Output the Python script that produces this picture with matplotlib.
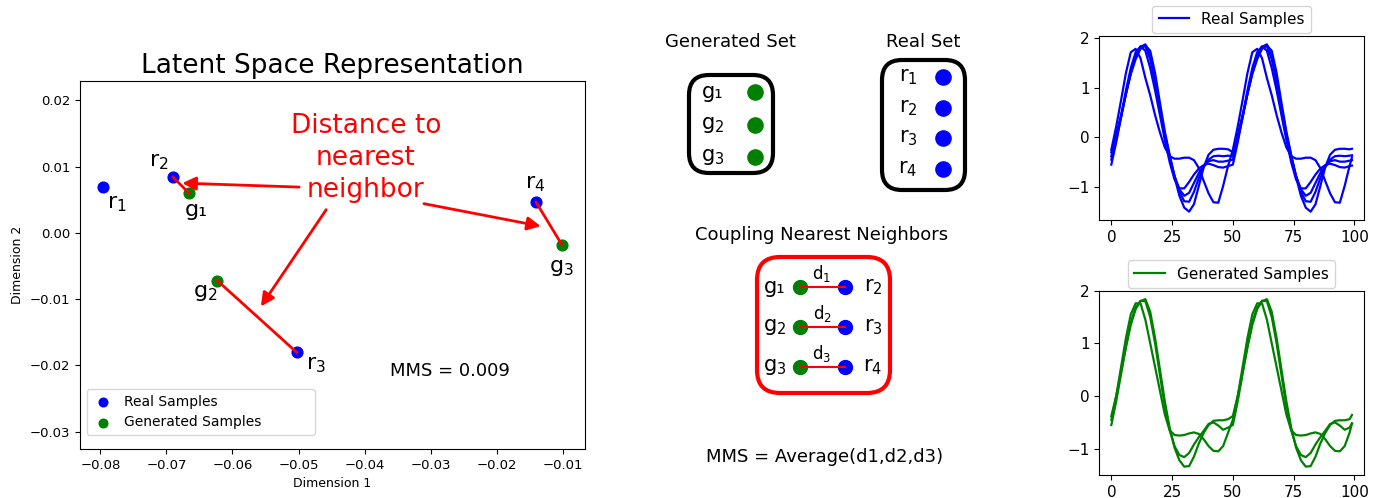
import matplotlib
matplotlib.use("Agg")
import matplotlib.pyplot as plt
from matplotlib.patches import FancyBboxPatch
import numpy as np

W, H = 1383, 498

# ---- latent space points ----
real_names = ["r$_1$", "r$_2$", "r$_3$", "r$_4$"]
real_x = [-0.0796, -0.0690, -0.0503, -0.0140]
real_y = [0.0069, 0.0084, -0.0180, 0.0046]
gen_names = ["g₁", "g$_2$", "g$_3$"]
gen_x = [-0.0666, -0.0623, -0.0101]
gen_y = [0.0060, -0.0072, -0.0018]
nearest = [1, 2, 3]  # index of the nearest real point for each generated point

# ---- time series, one period sampled every 2 steps (x = 0, 2, ..., 48) ----
step_x = list(range(0, 100, 2)) + [99]
real_period = [
    [-0.25, 0.22, 0.75, 1.30, 1.72, 1.79, 1.60, 1.20, 0.85, 0.45, 0.10, -0.20, -0.38,
     -0.43, -0.43, -0.41, -0.41, -0.46, -0.62, -0.88, -1.13, -1.31, -1.32, -0.98, -0.58],
    [-0.55, -0.10, 0.42, 0.95, 1.40, 1.72, 1.84, 1.75, 1.40, 0.95, 0.45, -0.05, -0.50,
     -0.85, -1.03, -1.03, -0.90, -0.75, -0.63, -0.56, -0.53, -0.56, -0.60, -0.61, -0.58],
    [-0.45, -0.05, 0.40, 0.88, 1.32, 1.65, 1.83, 1.84, 1.58, 1.10, 0.55, 0.02, -0.42,
     -0.78, -1.05, -1.18, -1.12, -0.92, -0.72, -0.58, -0.48, -0.46, -0.49, -0.49, -0.47],
    [-0.38, 0.00, 0.42, 0.88, 1.30, 1.62, 1.83, 1.88, 1.68, 1.20, 0.62, 0.07, -0.38,
     -0.78, -1.10, -1.29, -1.30, -1.10, -0.82, -0.60, -0.45, -0.38, -0.37, -0.38, -0.37],
    [-0.30, 0.05, 0.45, 0.88, 1.28, 1.58, 1.79, 1.86, 1.75, 1.30, 0.70, 0.12, -0.35,
     -0.80, -1.18, -1.42, -1.50, -1.35, -0.98, -0.60, -0.35, -0.25, -0.23, -0.23, -0.24],
]
real_end = [-0.40, -0.57, -0.46, -0.36, -0.23]

gen_period = [
    [-0.45, 0.00, 0.55, 1.10, 1.55, 1.76, 1.76, 1.45, 1.00, 0.55, 0.10, -0.35, -0.65,
     -0.74, -0.75, -0.74, -0.71, -0.69, -0.72, -0.82, -0.95, -1.04, -1.05, -0.95, -0.70],
    [-0.55, -0.10, 0.42, 0.95, 1.40, 1.68, 1.81, 1.80, 1.50, 1.00, 0.40, -0.20, -0.65,
     -0.95, -1.12, -1.16, -1.08, -0.92, -0.78, -0.66, -0.53, -0.50, -0.56, -0.64, -0.60],
    [-0.38, 0.00, 0.45, 0.92, 1.35, 1.65, 1.80, 1.84, 1.60, 1.10, 0.50, -0.10, -0.60,
     -0.98, -1.22, -1.34, -1.33, -1.15, -0.90, -0.70, -0.55, -0.47, -0.46, -0.46, -0.44],
]
gen_end = [-0.52, -0.52, -0.36]

fig = plt.figure(figsize=(W / 100, H / 100), dpi=100)

# ---------------- latent space scatter ----------------
ax = fig.add_axes([80 / W, 1 - 449 / H, 505 / W, 368 / H])
ax.scatter(real_x, real_y, s=60, color="blue", label="Real Samples", zorder=3)
ax.scatter(gen_x, gen_y, s=60, color="green", label="Generated Samples", zorder=3)

dists = []
for gi, ri in enumerate(nearest):
    ax.plot([gen_x[gi], real_x[ri]], [gen_y[gi], real_y[ri]], color="red", lw=2, zorder=4)
    dists.append(np.hypot(gen_x[gi] - real_x[ri], gen_y[gi] - real_y[ri]))

real_off = [(10, -12), (-10, 11), (14, -9), (-1, 13)]
gen_off = [(5, -12), (-9, -9), (0, -17)]
for name, x, y, off in zip(real_names, real_x, real_y, real_off):
    ax.annotate(name, (x, y), xytext=off, textcoords="offset points",
                ha="center", va="center", fontsize=16)
for name, x, y, off in zip(gen_names, gen_x, gen_y, gen_off):
    ax.annotate(name, (x, y), xytext=off, textcoords="offset points",
                ha="center", va="center", fontsize=16)

ax.text(-0.0398, 0.0113, "Distance to\nnearest\nneighbor", color="red", fontsize=19,
        ha="center", va="center", linespacing=1.32)
arrows = [((-0.0499, 0.0069), (-0.0676, 0.0075)),
          ((-0.0458, 0.0035), (-0.0557, -0.0111)),
          ((-0.0310, 0.0044), (-0.0133, 0.0010))]
for tail, head in arrows:
    ax.annotate("", xy=head, xytext=tail,
                arrowprops=dict(arrowstyle="-|>", color="red", lw=2, mutation_scale=20,
                                shrinkA=0, shrinkB=0))

ax.text(-0.0270, -0.0208, f"MMS = {np.mean(dists):.3f}", fontsize=13,
        ha="center", va="center")

ax.set_xlim(-0.0831, -0.0066)
ax.set_ylim(-0.0326, 0.0229)
ax.set_xticks([-0.08, -0.07, -0.06, -0.05, -0.04, -0.03, -0.02, -0.01])
ax.set_yticks([-0.03, -0.02, -0.01, 0.0, 0.01, 0.02])
ax.tick_params(labelsize=9.5)
ax.set_xlabel("Dimension 1", fontsize=9)
ax.set_ylabel("Dimension 2", fontsize=9)
ax.set_title("Latent Space Representation", fontsize=19)
ax.legend(loc="lower left", bbox_to_anchor=(0.013, 0.038, 0.4525, 0.13), mode="expand",
          borderaxespad=0, fontsize=10, handlelength=1.5, markerscale=0.8)

# ---------------- set diagram (pixel coordinates) ----------------
axd = fig.add_axes([0, 0, 1, 1], zorder=-1)
axd.set_xlim(0, W)
axd.set_ylim(H, 0)
axd.set_axis_off()

def box(x0, y0, x1, y1, color, r):
    axd.add_patch(FancyBboxPatch((x0, y0), x1 - x0, y1 - y0,
                                 boxstyle=f"round,pad=0,rounding_size={r}",
                                 fc="none", ec=color, lw=3))

axd.text(730, 42, "Generated Set", fontsize=13, ha="center", va="center")
axd.text(923, 42, "Real Set", fontsize=13, ha="center", va="center")
box(689, 75, 773, 173, "black", 20)
box(882, 60, 965, 190, "black", 20)
for i, name in enumerate(gen_names):
    y = 92 + i * 32.5
    axd.text(713, y, name, fontsize=15, ha="center", va="center")
    axd.scatter([755], [y], s=120, color="green")
for i, name in enumerate(real_names):
    y = 77 + i * 30.5
    axd.text(908, y, name, fontsize=15, ha="center", va="center")
    axd.scatter([943], [y], s=120, color="blue")

axd.text(822, 235, "Coupling Nearest Neighbors", fontsize=13, ha="center", va="center")
box(757, 257, 890, 393, "red", 23)
for i, ri in enumerate(nearest):
    y = 287 + i * 40
    axd.plot([800, 845], [y, y], color="red", lw=1.5, zorder=3)
    axd.scatter([800], [y], s=100, color="green", zorder=2)
    axd.scatter([845], [y], s=100, color="blue", zorder=2)
    axd.text(775, y, gen_names[i], fontsize=15, ha="center", va="center")
    axd.text(873, y, real_names[ri], fontsize=15, ha="center", va="center")
    axd.text(822, y - 14, f"d$_{i + 1}$", fontsize=12, ha="center", va="center")
axd.text(825, 457, "MMS = Average(d1,d2,d3)", fontsize=13, ha="center", va="center")

# ---------------- sample curves ----------------
ax_r = fig.add_axes([1099.3 / W, 1 - 220 / H, 264.7 / W, 184 / H])
for k, (p, e) in enumerate(zip(real_period, real_end)):
    ax_r.plot(step_x, p + p + [e], color="blue", lw=1.6,
              label="Real Samples" if k == 0 else None)
ax_r.legend(loc="lower center", bbox_to_anchor=(0.5, 1.0), borderaxespad=0.2, fontsize=11)

ax_g = fig.add_axes([1099.3 / W, 1 - 475 / H, 264.7 / W, 184.3 / H])
for k, (p, e) in enumerate(zip(gen_period, gen_end)):
    ax_g.plot(step_x, p + p + [e], color="green", lw=1.6,
              label="Generated Samples" if k == 0 else None)
ax_g.legend(loc="lower center", bbox_to_anchor=(0.5, 1.0), borderaxespad=0.2, fontsize=11)

for a in (ax_r, ax_g):
    a.set_xticks([0, 25, 50, 75, 100])
    a.set_yticks([-1, 0, 1, 2])
    a.tick_params(labelsize=11)

fig.savefig("out.png", dpi=100)
